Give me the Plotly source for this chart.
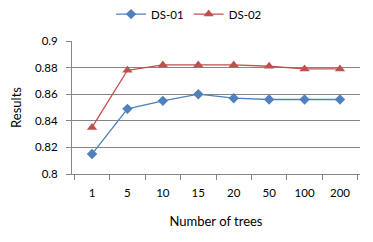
import plotly.graph_objects as go

categories = ["1", "5", "10", "15", "20", "50", "100", "200"]
ds01 = [0.815, 0.849, 0.855, 0.860, 0.857, 0.856, 0.856, 0.856]
ds02 = [0.835, 0.878, 0.882, 0.882, 0.882, 0.881, 0.879, 0.879]
y_tick_values = [0.8, 0.82, 0.84, 0.86, 0.88, 0.9]
y_tick_labels = ["0.8", "0.82", "0.84", "0.86", "0.88", "0.9"]

fig = go.Figure()
fig.add_trace(go.Scatter(x=categories, y=ds01, name="DS-01", mode="lines+markers",
                         line=dict(color="#4F81BD", width=1.3),
                         marker=dict(symbol="diamond", size=8, color="#4F81BD")))
fig.add_trace(go.Scatter(x=categories, y=ds02, name="DS-02", mode="lines+markers",
                         line=dict(color="#C0504D", width=1.3),
                         marker=dict(symbol="triangle-up", size=9, color="#C0504D")))

# page has an 8px body margin, so the figure is sized and placed to compensate
fig.update_layout(
    width=365, height=234,
    margin=dict(l=64, r=13, t=33, b=68, autoexpand=False),
    paper_bgcolor="white", plot_bgcolor="white",
    font=dict(family="Lato, Carlito, sans-serif", size=11.5, color="black"),
    legend=dict(orientation="h", xref="container", yref="container",
                x=0.496, xanchor="center", y=0.974, yanchor="middle",
                font=dict(size=11.5), itemwidth=30, tracegroupgap=0),
    xaxis=dict(type="category", showline=True, linecolor="#868686", linewidth=1,
               ticks="outside", tickson="boundaries", ticklen=5, tickcolor="#868686",
               showgrid=False, ticklabelstandoff=8,
               title=dict(text="Number of trees", font=dict(size=13), standoff=19)),
    yaxis=dict(range=[0.8, 0.9], tickmode="array", tickvals=y_tick_values, ticktext=y_tick_labels,
               showline=True, linecolor="#868686", linewidth=1,
               ticks="outside", ticklen=5, tickcolor="#868686", ticklabelstandoff=6,
               showgrid=True, gridcolor="#868686", gridwidth=1, zeroline=False,
               title=dict(text="Results", font=dict(size=13), standoff=12)),
)
fig.write_html("out.html")
